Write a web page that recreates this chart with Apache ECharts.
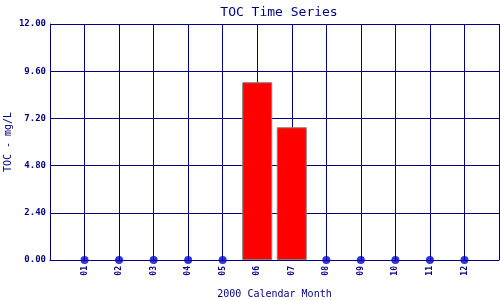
<!DOCTYPE html>
<html><head><meta charset="utf-8">
<script src="https://cdn.jsdelivr.net/npm/echarts@6/dist/echarts.min.js"></script>
<style>html,body{margin:0;padding:0;background:#fff}#c{width:500px;height:300px}</style>
</head><body><div id="c"></div>
<script>
const months = ['01','02','03','04','05','06','07','08','09','10','11','12'];
const barValues = [null,null,null,null,null,9.04,6.75,null,null,null,null,null];
const pointValues = [0,0,0,0,0,null,null,0,0,0,0,0];
const yTicks = [0, 2.4, 4.8, 7.2, 9.6, 12];

const cats = [''].concat(months).concat(['']);
const pad = a => ['-'].concat(a.map(v => v == null ? '-' : v)).concat(['-']);
const navy = '#000080';
const mono = 'DejaVu Sans Mono';
const chart = echarts.init(document.getElementById('c'));
chart.setOption({
  animation: false,
  backgroundColor: '#fff',
  title: {text: 'TOC Time Series', left: 274, top: 1, textAlign: 'center',
    textStyle: {fontFamily: mono, fontSize: 13, fontWeight: 'normal', color: navy}},
  grid: {left: 50, right: 1, top: 24, bottom: 40, containLabel: false, outerBoundsMode: 'none'},
  xAxis: {type: 'category', data: cats, boundaryGap: false,
    name: '2000 Calendar Month', nameLocation: 'middle', nameGap: 29, nameMoveOverlap: false,
    nameTextStyle: {fontFamily: mono, fontSize: 10, color: navy},
    axisLine: {lineStyle: {color: navy, width: 1}},
    axisTick: {show: false},
    axisLabel: {rotate: 90, interval: 0, margin: 6, fontFamily: mono, fontSize: 8, fontWeight: 'bold', color: navy},
    splitLine: {show: true, interval: 0, lineStyle: {color: navy, width: 1}}},
  yAxis: {type: 'value', min: yTicks[0], max: yTicks[yTicks.length-1], interval: 2.4,
    name: 'TOC - mg/L', nameLocation: 'middle', nameGap: 37, nameRotate: 90, nameMoveOverlap: false,
    nameTextStyle: {fontFamily: mono, fontSize: 10, color: navy},
    axisLine: {show: true, lineStyle: {color: navy, width: 1}},
    axisTick: {show: false},
    axisLabel: {margin: 4, formatter: v => v.toFixed(2), fontFamily: mono, fontSize: 9, fontWeight: 'bold', color: navy},
    splitLine: {show: true, lineStyle: {color: navy, width: 1}}},
  series: [
    {type: 'bar', data: pad(barValues), barWidth: 30,
      itemStyle: {color: '#ff0000', borderColor: '#808080', borderWidth: 1}, z: 3},
    {type: 'scatter', data: pad(pointValues), symbol: 'circle', symbolSize: 8,
      itemStyle: {color: '#0000cc'}, z: 4}
  ]
});
</script></body></html>
